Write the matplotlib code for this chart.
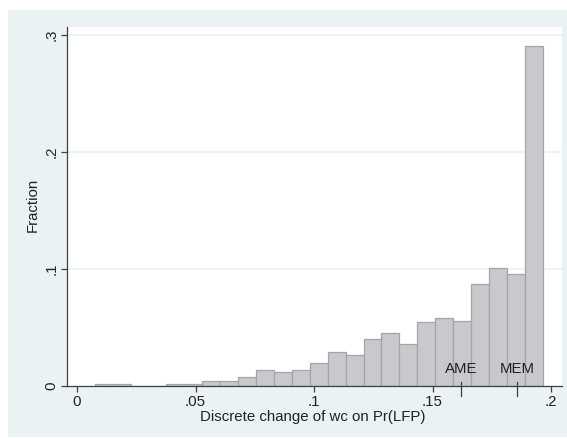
import numpy as np
import matplotlib
matplotlib.use("Agg")
import matplotlib.pyplot as plt
from matplotlib.patches import Rectangle
import matplotlib.transforms as mtransforms

# ---- data ----
bin_min = 0.0075
bin_max = 0.1965
fractions = [0.0013, 0.0013, 0.0, 0.0, 0.0013, 0.0013, 0.0040, 0.0040,
             0.0080, 0.0133, 0.0120, 0.0133, 0.0199, 0.0292, 0.0266,
             0.0398, 0.0452, 0.0359, 0.0544, 0.0584, 0.0558, 0.0876,
             0.1009, 0.0956, 0.2908]
marker_names = ["AME", "MEM"]
marker_values = [0.1622, 0.1858]
xticks = [0, 0.05, 0.1, 0.15, 0.2]
xticklabels = ["0", ".05", ".1", ".15", ".2"]
yticks = [0, 0.1, 0.2, 0.3]
yticklabels = ["0", ".1", ".2", ".3"]

plt.rcParams['font.family'] = ['Liberation Sans', 'DejaVu Sans']
FS = 10.8
W, H = 567, 438
fig = plt.figure(figsize=(W / 100, H / 100), dpi=100)
fig.patch.set_facecolor('white')
bg = '#EAF2F3'
fig.patches.append(Rectangle((8 / W, 1 / H), 1 - 8 / W, 1 - 11 / H,
                             transform=fig.transFigure, facecolor=bg,
                             edgecolor='none', zorder=-10))

L, R, T, B = 67, 562, 26.7, 386
ax = fig.add_axes([L / W, 1 - B / H, (R - L) / W, (B - T) / H])
ax.set_zorder(1)
ax.set_facecolor('white')

edges = np.linspace(bin_min, bin_max, len(fractions) + 1)
ax.bar(edges[:-1], fractions, width=np.diff(edges), align='edge',
       color='#C8C9CC', edgecolor='#A4A5A9', linewidth=0.9, zorder=3)

ax.set_xlim(-0.00422, 0.20464)
ax.set_ylim(0, 0.3071)

for y in yticks[1:]:
    ax.axhline(y, color=bg, linewidth=1.2, zorder=1)

for s in ['top', 'right']:
    ax.spines[s].set_visible(False)
for s in ['left', 'bottom']:
    ax.spines[s].set_color('#404040')
    ax.spines[s].set_linewidth(0.9)
    ax.spines[s].set_zorder(4)

ax.set_xticks(xticks)
ax.set_xticklabels(xticklabels)
ax.set_yticks(yticks)
ax.set_yticklabels(yticklabels, rotation=90, va='center')
ax.tick_params(axis='both', direction='out', length=4.3, width=0.9,
               color='#404040', labelsize=FS, labelcolor='#222222')
ax.tick_params(axis='x', pad=2.5)
ax.tick_params(axis='y', pad=2)

ax.set_xlabel("Discrete change of wc on Pr(LFP)", fontsize=FS, color='#222222')
ax.xaxis.set_label_coords(0.497, -0.086)
ax.xaxis.label.set_va('center')
ax.set_ylabel("Fraction", fontsize=FS, color='#222222')
ax.yaxis.set_label_coords(-0.0687, 0.504)
ax.yaxis.label.set_va('center')

trans = mtransforms.blended_transform_factory(ax.transData, ax.transAxes)
for name, v in zip(marker_names, marker_values):
    ax.plot([v, v], [0.011, -0.028], transform=trans, color='#404040',
            linewidth=0.9, clip_on=False, zorder=5)
    ax.text(v, 0.047, name, transform=trans, ha='center', va='center',
            fontsize=FS, color='#222222', zorder=5)

fig.savefig("out.png", dpi=100)
